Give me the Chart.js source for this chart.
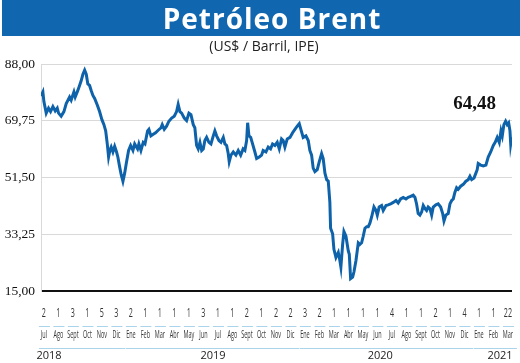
<!DOCTYPE html>
<html>
<head>
<meta charset="utf-8">
<script src="https://cdn.jsdelivr.net/npm/chart.js@4.4.1/dist/chart.umd.min.js"></script>
<style>
  body { margin: 0; background: #fff; }
  #wrap { position: relative; width: 520px; height: 363px; overflow: hidden; }
  #bar { position: absolute; left: 2px; top: 0; width: 518px; height: 36px; background: #1166b0; }
  #title { position: absolute; left: 22px; top: 0; width: 500px; text-align: center; color: #fff;
           font: bold 28px 'Open Sans', sans-serif; letter-spacing: 1px; line-height: 37px; }
  #sub { position: absolute; left: 4px; top: 37px; width: 520px; text-align: center; color: #222;
         font: 14px 'Open Sans', sans-serif; line-height: 17px; }
  canvas { position: absolute; left: 0; top: 0; }
</style>
</head>
<body>
<div id="wrap">
  <canvas id="chart" width="520" height="363"></canvas>
  <div id="bar"></div>
  <div id="title">Petróleo Brent</div>
  <div id="sub">(US$ / Barril, IPE)</div>
</div>
<script>
// month index (0 = Jul 2018) and Brent price
const monthPos = [
  -0.2, -0.07, 0.00, 0.16, 0.32, 0.46, 0.62, 0.78, 0.92, 1.01, 1.19, 1.38, 1.54, 1.77, 1.88, 2.07, 2.16, 2.34, 2.46, 2.57,
  2.69, 2.81, 2.92, 3.03, 3.15, 3.26, 3.38, 3.50, 3.68, 3.84, 4.00, 4.14, 4.26, 4.37, 4.46, 4.55, 4.64, 4.76, 4.88, 5.01,
  5.10, 5.22, 5.33, 5.45, 5.57, 5.68, 5.84, 5.98, 6.14, 6.26, 6.46, 6.55, 6.69, 6.85, 6.97, 7.15, 7.24, 7.38, 7.54, 7.70,
  7.88, 8.07, 8.16, 8.30, 8.46, 8.62, 8.81, 8.99, 9.15, 9.26, 9.38, 9.50, 9.68, 9.84, 10.00, 10.14, 10.30, 10.41, 10.53, 10.64,
  10.76, 10.88, 10.99, 11.10, 11.22, 11.38, 11.52, 11.68, 11.79, 11.91, 12.07, 12.21, 12.37, 12.48, 12.60, 12.71, 12.78, 12.90, 13.06, 13.24,
  13.40, 13.57, 13.74, 13.86, 13.98, 14.05, 14.14, 14.26, 14.39, 14.55, 14.67, 14.85, 15.01, 15.12, 15.31, 15.47, 15.63, 15.77, 15.93, 16.09,
  16.23, 16.39, 16.50, 16.62, 16.78, 16.97, 17.15, 17.31, 17.47, 17.61, 17.72, 17.88, 18.07, 18.23, 18.34, 18.46, 18.57, 18.69, 18.85, 18.99,
  19.15, 19.26, 19.38, 19.50, 19.61, 19.72, 19.77, 19.91, 20.00, 20.14, 20.30, 20.41, 20.48, 20.60, 20.69, 20.83, 20.99, 21.06, 21.15, 21.29,
  21.38, 21.52, 21.68, 21.79, 21.91, 22.02, 22.14, 22.26, 22.37, 22.48, 22.60, 22.76, 22.90, 22.99, 23.12, 23.29, 23.40, 23.59, 23.74, 23.91,
  24.09, 24.28, 24.43, 24.60, 24.78, 24.97, 25.12, 25.29, 25.47, 25.59, 25.70, 25.81, 25.93, 26.05, 26.16, 26.28, 26.39, 26.50, 26.62, 26.74,
  26.85, 27.03, 27.19, 27.36, 27.50, 27.59, 27.72, 27.88, 28.00, 28.12, 28.23, 28.34, 28.46, 28.57, 28.74, 28.92, 29.10, 29.26, 29.38, 29.50,
  29.66, 29.79, 29.88, 29.95, 30.12, 30.30, 30.48, 30.64, 30.81, 30.99, 31.12, 31.26, 31.40, 31.52, 31.61, 31.72, 31.84, 31.95, 32.05, 32.14,
  32.19, 32.26
];
const brent = [
  77.7, 79.0, 75.9, 72.2, 73.8, 72.7, 74.3, 72.9, 73.8, 72.2, 71.2, 72.7, 75.3, 77.4, 76.4, 79.0, 77.4, 79.5, 81.1, 82.6,
  84.7, 86.0, 84.7, 81.6, 81.1, 79.5, 77.9, 76.9, 74.8, 72.7, 70.1, 68.5, 66.5, 62.3, 58.1, 60.2, 61.3, 59.7, 61.5, 59.7,
  58.1, 55.0, 52.4, 50.3, 52.9, 56.0, 60.2, 61.8, 60.2, 62.3, 60.7, 62.3, 60.2, 62.8, 62.3, 66.5, 67.0, 64.9, 65.4, 65.9,
  66.7, 67.5, 68.5, 67.0, 68.0, 69.6, 70.6, 71.2, 72.7, 75.0, 72.7, 72.2, 70.6, 69.8, 72.2, 71.7, 68.5, 67.5, 61.8, 60.7,
  62.8, 60.2, 60.7, 63.4, 64.4, 62.8, 62.3, 64.9, 66.5, 64.9, 63.4, 62.8, 64.4, 62.3, 61.8, 59.2, 56.6, 58.7, 59.7, 58.7,
  60.2, 58.7, 60.7, 60.2, 63.4, 69.1, 64.9, 64.4, 62.3, 59.7, 57.6, 58.1, 58.7, 60.2, 59.7, 61.3, 60.7, 62.3, 61.8, 62.8,
  60.7, 63.9, 63.4, 61.3, 63.9, 64.4, 65.9, 67.0, 68.0, 68.8, 67.0, 64.4, 64.9, 63.4, 60.2, 58.7, 54.5, 53.4, 54.0, 56.6,
  59.2, 57.6, 52.9, 50.8, 50.3, 43.5, 35.2, 33.4, 28.4, 25.8, 27.4, 24.8, 22.7, 30.0, 34.1, 32.6, 27.9, 26.8, 19.0, 19.5,
  21.1, 24.8, 30.5, 30.0, 30.5, 32.6, 35.2, 35.7, 35.7, 36.8, 38.8, 42.0, 40.9, 39.4, 42.0, 42.5, 40.9, 42.5, 42.7, 43.0,
  43.5, 44.1, 43.3, 44.6, 45.1, 44.6, 45.1, 45.4, 45.8, 45.1, 43.0, 39.9, 39.4, 40.4, 42.5, 41.5, 40.9, 42.0, 41.5, 39.4,
  42.0, 42.7, 43.0, 42.0, 39.9, 37.5, 39.4, 39.9, 43.0, 44.1, 44.6, 46.7, 48.2, 47.7, 48.7, 49.3, 50.3, 50.8, 51.9, 50.8,
  51.3, 52.9, 54.0, 56.0, 55.5, 55.2, 55.5, 58.1, 59.7, 61.8, 62.8, 64.4, 62.8, 66.5, 64.9, 68.5, 69.6, 68.5, 69.1, 66.5,
  62.3, 64.48
];

const monthLabels = ['Jul', 'Ago', 'Sept', 'Oct', 'Nov', 'Dic',
  'Ene', 'Feb', 'Mar', 'Abr', 'May', 'Jun', 'Jul', 'Ago', 'Sept', 'Oct', 'Nov', 'Dic',
  'Ene', 'Feb', 'Mar', 'Abr', 'May', 'Jun', 'Jul', 'Ago', 'Sept', 'Oct', 'Nov', 'Dic',
  'Ene', 'Feb', 'Mar'];
const dayLabels = ['2', '1', '3', '1', '5', '3', '2', '1', '1', '1', '1', '3', '1', '1', '2', '1', '2',
  '2', '3', '2', '1', '1', '1', '1', '4', '1', '1', '2', '1', '4', '1', '1', '22'];
const yearLabels = ['2018', '2019', '2020', '2021'];
const yearFirst = [0, 6, 18, 30];
const yearLast = [5, 17, 29, 32];
const yearTextPos = [0.35, 11.66, 23.2, 31.45];
const yTicks = [15, 33.25, 51.5, 69.75, 88];
const lastLabel = '64,48';

const fmt = v => v.toFixed(2).replace('.', ',');

function squeezed(ctx, text, x, y, font, sx, color) {
  ctx.save();
  ctx.font = font;
  ctx.fillStyle = color;
  ctx.translate(x, y);
  ctx.scale(sx, 1);
  ctx.fillText(text, 0, 0);
  ctx.restore();
}

const bottomLabels = {
  id: 'bottomLabels',
  afterDraw(chart) {
    const { ctx, scales: { x } } = chart;
    ctx.save();
    ctx.textAlign = 'center';
    ctx.textBaseline = 'middle';
    monthLabels.forEach((m, i) => {
      const px = x.getPixelForValue(i);
      squeezed(ctx, dayLabels[i], px, 313, '13px "Open Sans"', 0.55, '#333');
      squeezed(ctx, m, px, 335, '11px "Open Sans"', 0.5, '#333');
      ctx.strokeStyle = '#a9d4ec';
      ctx.lineWidth = 1;
      ctx.beginPath();
      ctx.moveTo(px - 5, 326.5);
      ctx.lineTo(px + 6, 326.5);
      ctx.stroke();
    });
    yearLabels.forEach((yl, k) => {
      const a = x.getPixelForValue(yearFirst[k]) - 5;
      const b = x.getPixelForValue(yearLast[k]) + 9;
      ctx.strokeStyle = '#a9d4ec';
      ctx.beginPath();
      ctx.moveTo(a, 348.5);
      ctx.lineTo(b, 348.5);
      ctx.stroke();
      ctx.font = '11px "Open Sans"';
      ctx.fillStyle = '#222';
      ctx.fillText(yl, x.getPixelForValue(yearTextPos[k]), 356);
    });
    // closing value label
    const lx = x.getPixelForValue(monthPos[monthPos.length - 1]);
    const ly = chart.scales.y.getPixelForValue(brent[brent.length - 1]);
    ctx.font = 'bold 19px "Liberation Serif"';
    ctx.fillStyle = '#111';
    ctx.textBaseline = 'alphabetic';
    ctx.fillText(lastLabel, lx - 37, ly - 28);
    ctx.restore();
  }
};

new Chart(document.getElementById('chart'), {
  type: 'line',
  data: {
    datasets: [{
      data: monthPos.map((m, i) => ({ x: m, y: brent[i] })),
      borderColor: '#0e62aa',
      borderWidth: 3,
      pointRadius: 0,
      tension: 0,
      fill: false
    }]
  },
  options: {
    responsive: false,
    animation: false,
    layout: { padding: { top: 64, bottom: 64, right: 8, left: 0 } },
    plugins: { legend: { display: false }, tooltip: { enabled: false } },
    scales: {
      x: {
        type: 'linear', min: -0.2, max: 32.28,
        ticks: { display: false },
        grid: { display: false },
        border: { display: false }
      },
      y: {
        min: 15, max: 88,
        afterBuildTicks: s => { s.ticks = yTicks.map(v => ({ value: v })); },
        afterFit: s => { s.width = 41; },
        ticks: { padding: 6, color: '#111', font: { family: 'Liberation Serif', size: 13.5 }, callback: v => fmt(v) },
        grid: {
          drawTicks: false,
          color: c => c.tick.value === 15 ? '#111' : '#d9d9d9',
          lineWidth: c => c.tick.value === 15 ? 2 : 1
        },
        border: { display: true, color: '#d9d9d9' }
      }
    }
  },
  plugins: [bottomLabels]
});
</script>
</body>
</html>
